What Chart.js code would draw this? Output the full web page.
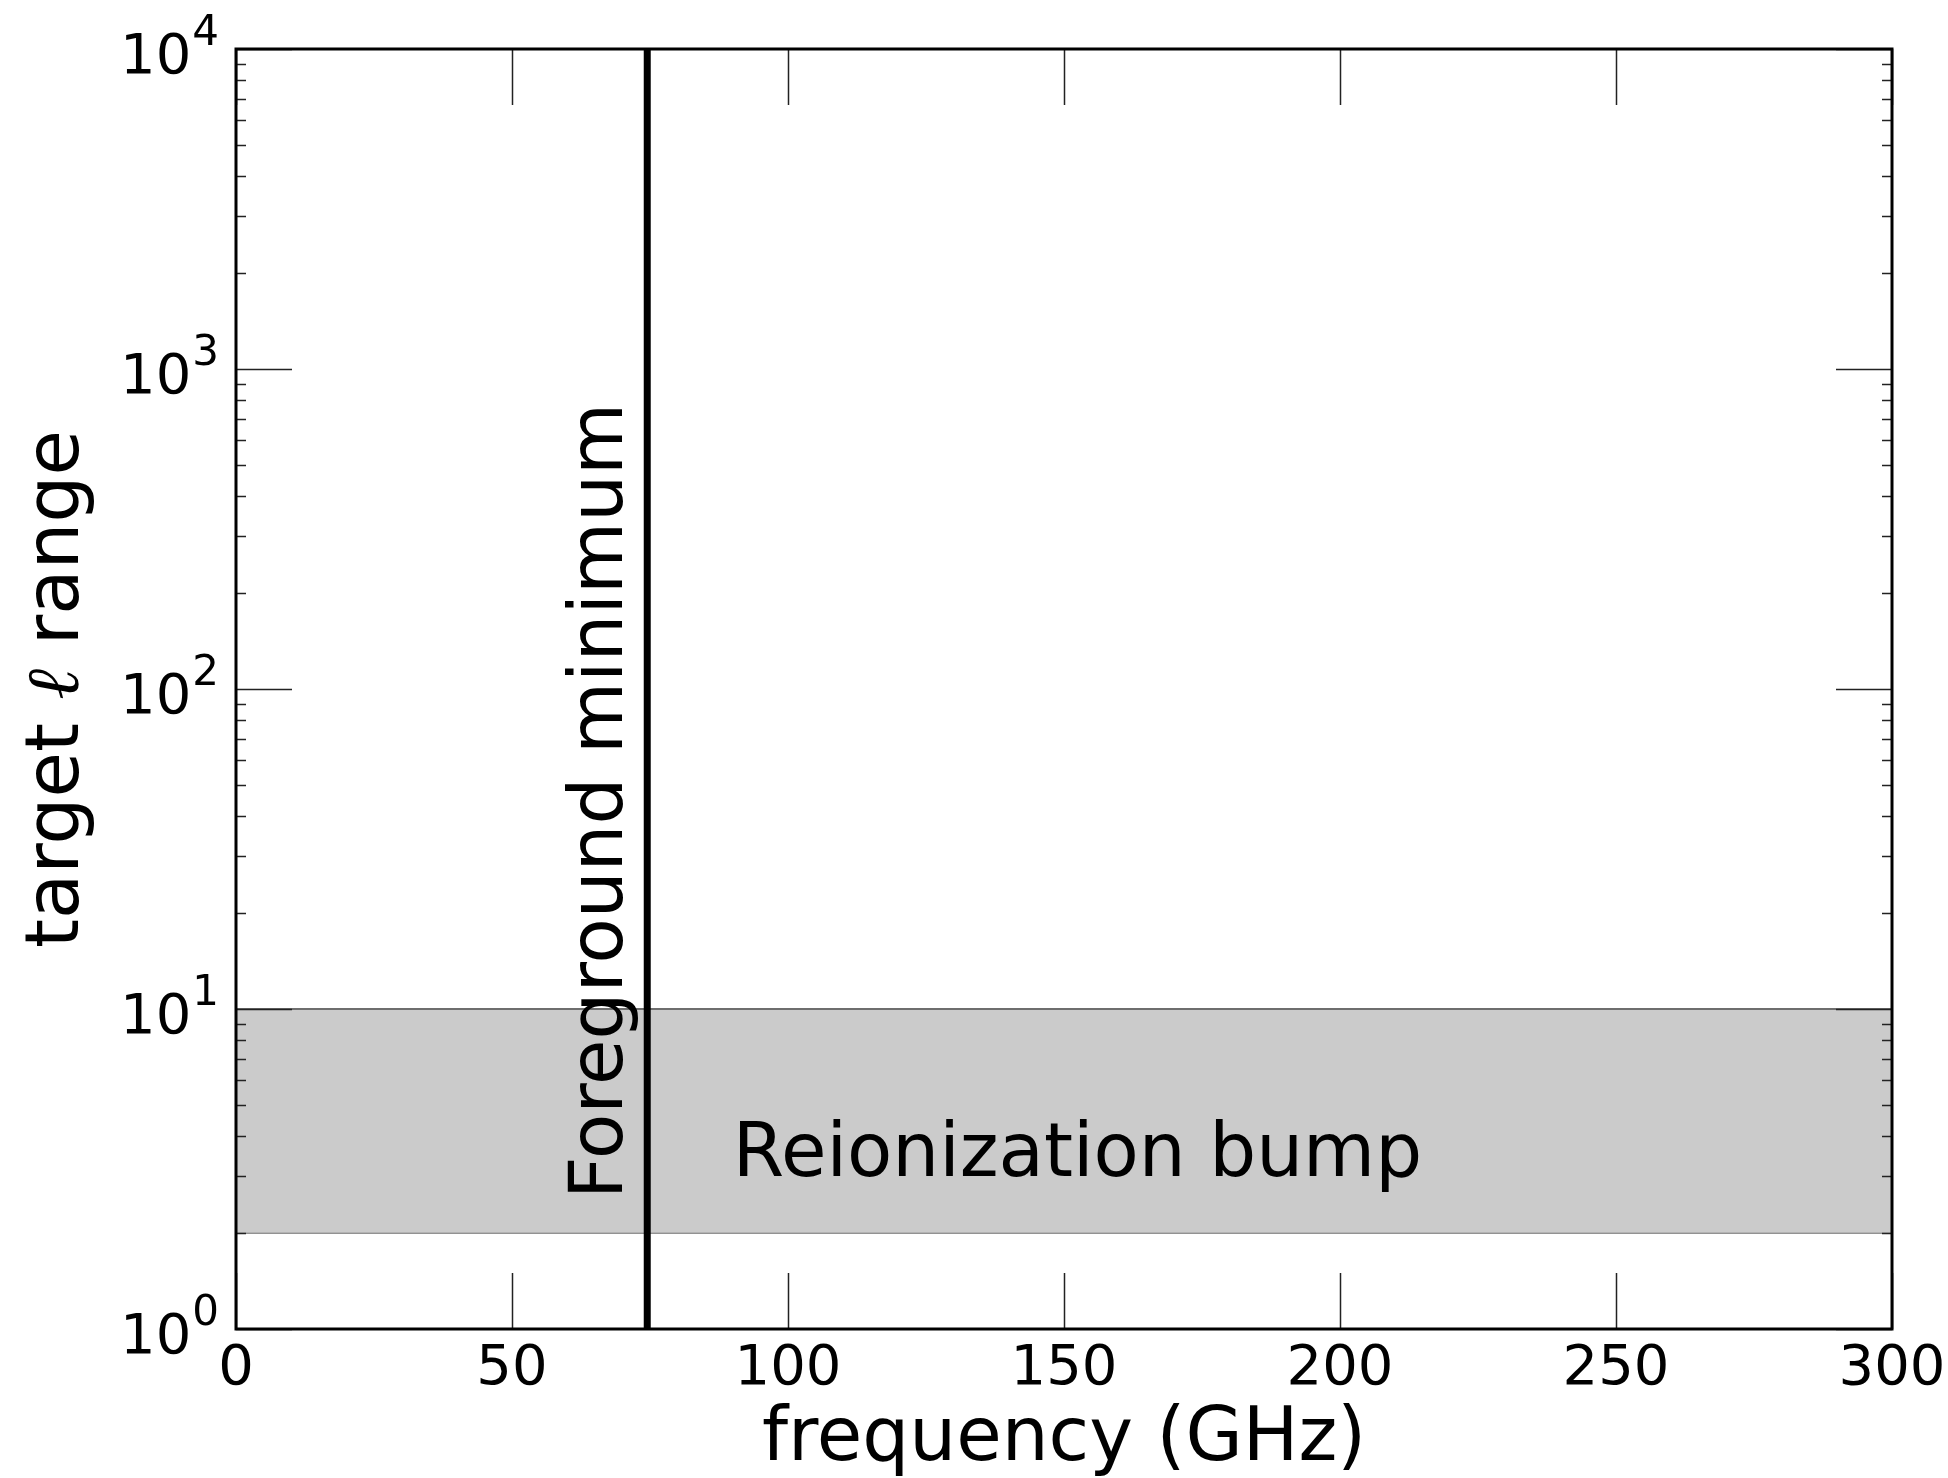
<!DOCTYPE html>
<html>
<head>
<meta charset="utf-8">
<script src="https://cdn.jsdelivr.net/npm/chart.js@4.4.1/dist/chart.umd.min.js"></script>
<style>
  html, body { margin: 0; padding: 0; background: #fff; }
  canvas { display: block; }
</style>
</head>
<body>
<canvas id="chart" width="1948" height="1478"></canvas>
<script>
// Reionization band: flat between l = 2 and l = 10 over the whole frequency range
const bandFreq = [0, 300];
const bandLow = [2, 2];
const bandHigh = [10, 10];

// Foreground minimum marker (GHz) and the l span it covers
const fgMinFreq = 74.5;
const fgSpan = [1, 10000];

// Axis ticks
const freqTicks = [0, 50, 100, 150, 200, 250, 300];
const ellDecades = [0, 1, 2, 3, 4];

// Text labels placed in data coordinates
const bumpLabel = { text: 'Reionization bump', x: 90, y: 3 };
const fgLabel = { text: 'Foreground minimum', x: 70, y: 2.55 };

const FONT = '"DejaVu Sans", sans-serif';

function points(xs, ys) {
    return xs.map((x, i) => ({ x: x, y: ys[i] }));
}

// Inside ticks, frame, tick labels and axis titles, all placed through the chart scales
const axisFrame = {
    id: 'axisFrame',
    afterDatasetsDraw(chart) {
        const ctx = chart.ctx;
        const xs = chart.scales.x, ys = chart.scales.y;
        ctx.save();
        ctx.fillStyle = '#000';
        ctx.font = '74px ' + FONT;
        ctx.textAlign = 'left';
        ctx.textBaseline = 'alphabetic';
        ctx.fillText(bumpLabel.text, xs.getPixelForValue(bumpLabel.x), ys.getPixelForValue(bumpLabel.y));
        ctx.translate(xs.getPixelForValue(fgLabel.x), ys.getPixelForValue(fgLabel.y));
        ctx.rotate(-Math.PI / 2);
        ctx.fillText(fgLabel.text, 0, 0);
        ctx.restore();
    },
    afterDraw(chart) {
        const ctx = chart.ctx;
        const a = chart.chartArea;
        const xs = chart.scales.x, ys = chart.scales.y;
        const major = 56, minor = 10;

        ctx.save();
        ctx.strokeStyle = '#222';
        ctx.lineWidth = 1.5;
        ctx.beginPath();
        // frequency ticks, top and bottom
        freqTicks.forEach(v => {
            const px = Math.round(xs.getPixelForValue(v)) + 0.5;
            ctx.moveTo(px, a.bottom); ctx.lineTo(px, a.bottom - major);
            ctx.moveTo(px, a.top); ctx.lineTo(px, a.top + major);
        });
        // log ticks, left and right
        ellDecades.forEach(d => {
            const py = Math.round(ys.getPixelForValue(Math.pow(10, d))) + 0.5;
            ctx.moveTo(a.left, py); ctx.lineTo(a.left + major, py);
            ctx.moveTo(a.right, py); ctx.lineTo(a.right - major, py);
            if (d < ellDecades[ellDecades.length - 1]) {
                for (let m = 2; m <= 9; m++) {
                    const pm = Math.round(ys.getPixelForValue(m * Math.pow(10, d))) + 0.5;
                    ctx.moveTo(a.left, pm); ctx.lineTo(a.left + minor, pm);
                    ctx.moveTo(a.right, pm); ctx.lineTo(a.right - minor, pm);
                }
            }
        });
        ctx.stroke();

        // frame
        ctx.strokeStyle = '#000';
        ctx.lineWidth = 3;
        ctx.strokeRect(a.left, a.top, a.right - a.left, a.bottom - a.top);

        // frequency tick labels
        ctx.fillStyle = '#000';
        ctx.font = '56px ' + FONT;
        ctx.textAlign = 'center';
        ctx.textBaseline = 'alphabetic';
        freqTicks.forEach(v => {
            ctx.fillText(String(v), xs.getPixelForValue(v), a.bottom + 55);
        });

        // 10^n labels
        const labelRight = a.left - 17;
        ellDecades.forEach(d => {
            const py = ys.getPixelForValue(Math.pow(10, d));
            ctx.textAlign = 'right';
            ctx.font = '42px ' + FONT;
            const sup = String(d);
            const supW = ctx.measureText(sup).width;
            ctx.fillText(sup, labelRight, py - 4);
            ctx.font = '56px ' + FONT;
            ctx.fillText('10', labelRight - supW - 1, py + 24);
        });

        // axis titles
        ctx.font = '74px ' + FONT;
        ctx.textAlign = 'center';
        ctx.fillText('frequency (GHz)', (a.left + a.right) / 2, 1460);

        ctx.translate(78, (a.top + a.bottom) / 2);
        ctx.rotate(-Math.PI / 2);
        const parts = [
            { t: 'target ', f: '74px ' + FONT },
            { t: '\u2113', f: 'italic 74px "DejaVu Serif", serif' },
            { t: ' range', f: '74px ' + FONT }
        ];
        let total = 0;
        parts.forEach(p => { ctx.font = p.f; p.w = ctx.measureText(p.t).width; total += p.w; });
        let cx = -total / 2;
        ctx.textAlign = 'left';
        parts.forEach(p => { ctx.font = p.f; ctx.fillText(p.t, cx, 0); cx += p.w; });
        ctx.restore();
    }
};

new Chart(document.getElementById('chart').getContext('2d'), {
    type: 'line',
    data: {
        datasets: [
            {
                data: points(bandFreq, bandLow),
                borderColor: '#6e6e6e',
                borderWidth: 2,
                pointRadius: 0,
                fill: false,
                order: 2
            },
            {
                data: points(bandFreq, bandHigh),
                borderColor: '#6e6e6e',
                borderWidth: 2,
                pointRadius: 0,
                backgroundColor: '#cbcbcb',
                fill: '-1',
                order: 1
            },
            {
                // vertical marker sits on top of the band
                data: [{ x: fgMinFreq, y: fgSpan[0] }, { x: fgMinFreq, y: fgSpan[1] }],
                borderColor: '#000',
                borderWidth: 7,
                pointRadius: 0,
                fill: false,
                order: 0
            }
        ]
    },
    options: {
        responsive: false,
        devicePixelRatio: 1,
        animation: false,
        layout: { padding: { left: 0, top: 49, right: 56, bottom: 0 } },
        plugins: {
            legend: { display: false },
            tooltip: { enabled: false }
        },
        scales: {
            x: {
                type: 'linear',
                min: 0,
                max: 300,
                ticks: { display: false, stepSize: 50 },
                grid: { display: false },
                border: { display: false },
                afterFit: s => { s.height = 149; }
            },
            y: {
                type: 'logarithmic',
                min: 1,
                max: 10000,
                ticks: { display: false },
                grid: { display: false },
                border: { display: false },
                afterFit: s => { s.width = 236; }
            }
        }
    },
    plugins: [axisFrame]
});
</script>
</body>
</html>
